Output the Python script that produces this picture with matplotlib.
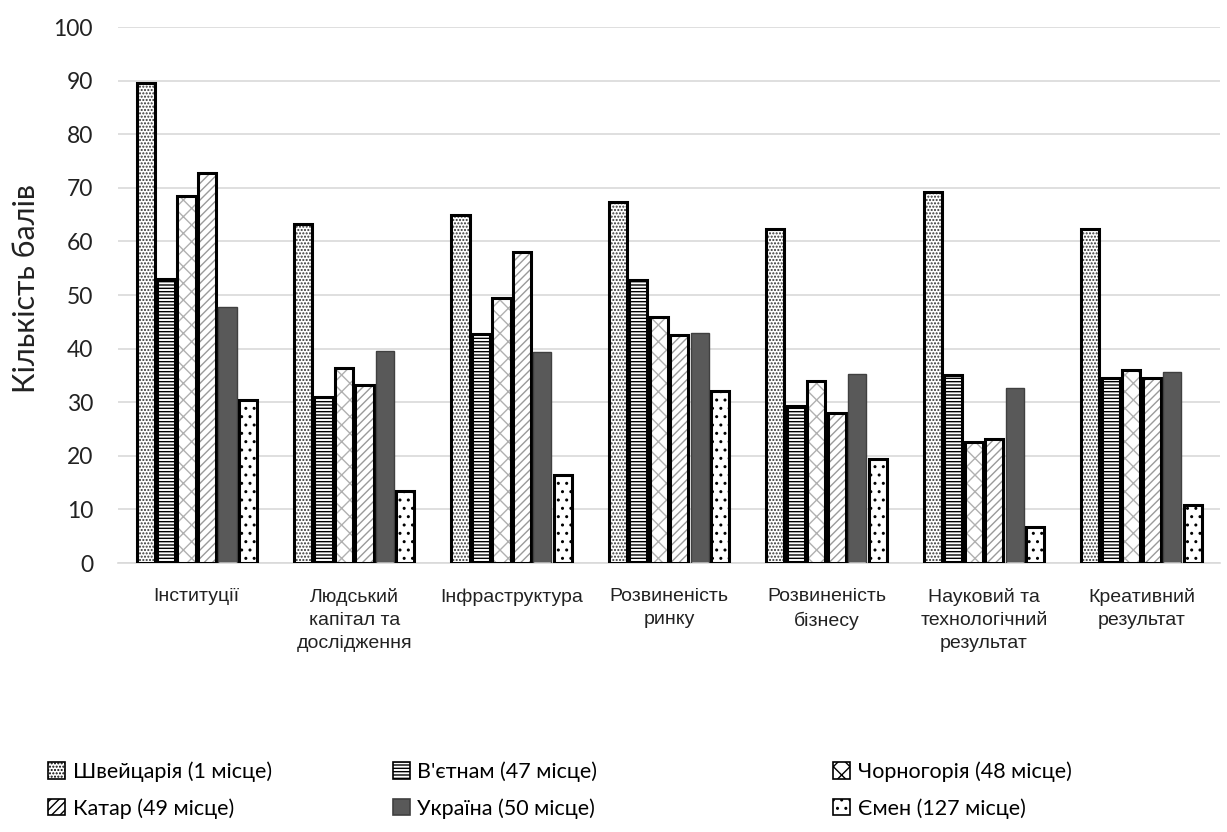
import matplotlib
matplotlib.use("Agg")
import matplotlib.pyplot as plt
from matplotlib.patches import Rectangle
import numpy as np

# pillars of the index and the six countries compared
categories = ["Інституції", "Людський\nкапітал та\nдослідження", "Інфраструктура",
              "Розвиненість\nринку", "Розвиненість\nбізнесу",
              "Науковий та\nтехнологічний\nрезультат", "Креативний\nрезультат"]
countries = ["Швейцарія (1 місце)", "В'єтнам (47 місце)", "Чорногорія (48 місце)",
             "Катар (49 місце)", "Україна (50 місце)", "Ємен (127 місце)"]

switzerland = [89.5, 63.2, 65.0, 67.4, 62.4, 69.2, 62.4]
vietnam = [53.0, 31.0, 42.8, 52.8, 29.3, 35.0, 34.6]
montenegro = [68.5, 36.3, 49.5, 45.9, 34.0, 22.5, 36.0]
qatar = [72.8, 33.2, 58.0, 42.5, 28.0, 23.1, 34.5]
ukraine = [47.8, 39.5, 39.3, 43.0, 35.3, 32.7, 35.6]
yemen = [30.5, 13.5, 16.4, 32.1, 19.4, 6.7, 10.9]

series = [switzerland, vietnam, montenegro, qatar, ukraine, yemen]

# fill, hatch, hatch colour, edge width per series
styles = [
    ("white", ".....", "#333333", 2.2),
    ("white", "-----", "black", 2.2),
    ("white", "xx", "#b0b0b0", 2.2),
    ("white", "////", "#9a9a9a", 2.2),
    ("#595959", "", "#404040", 1.0),
    ("white", "..", "black", 2.2),
]

plt.rcParams["font.family"] = ["Lato", "DejaVu Sans"]

fig = plt.figure(figsize=(12.27, 8.32), dpi=100)
ax = fig.add_axes([0.0962, 0.3233, 0.8983, 0.6442])

x = np.arange(len(categories))
slot = 0.13
width = 0.115
for i, (vals, (fc, hatch, hc, lw)) in enumerate(zip(series, styles)):
    pos = x + (i - 2.5) * slot
    # hatched fill first (hatch takes its colour from the edge), outline on top
    ax.bar(pos, vals, width, color=fc, hatch=hatch, edgecolor=hc, linewidth=0, zorder=2)
    ax.bar(pos, vals, width, color="none", edgecolor="black" if lw > 1 else hc,
           linewidth=lw, zorder=3)

ax.set_xlim(-0.5, len(categories) - 0.5)
ax.set_ylim(0, 100)
ax.set_yticks(np.arange(0, 101, 10))
ax.yaxis.grid(True, color="#d9d9d9", linewidth=1.2, zorder=0)
ax.set_axisbelow(True)
for s in ("top", "right", "left"):
    ax.spines[s].set_visible(False)
ax.spines["bottom"].set_color("#d9d9d9")
ax.spines["bottom"].set_linewidth(1.2)
ax.tick_params(axis="both", length=0)
ax.tick_params(axis="y", labelsize=16.5, colors="#222222", pad=18)
ax.set_xticks(x)
ax.set_xticklabels(categories, fontsize=14, family=["Liberation Sans", "DejaVu Sans"],
                   color="#222222", linespacing=1.45)
ax.tick_params(axis="x", pad=18)
fig.text(0.021, 0.653, "Кількість балів", rotation=90, fontsize=22, color="#222222",
         ha="center", va="center")

# legend: row-major order, one legend per column
col_x = [0.039, 0.320, 0.679]
for c in range(3):
    idx = [c, c + 3]
    handles = []
    for k in idx:
        fc, hatch, hc, lw = styles[k]
        handles.append(Rectangle((0, 0), 1, 1, facecolor=fc, hatch=hatch,
                                 edgecolor="black" if lw > 1 else hc, linewidth=1.2))
    fig.legend(handles, [countries[k] for k in idx], loc="upper left",
               bbox_to_anchor=(col_x[c], 0.085), frameon=False, fontsize=15.5,
               handlelength=0.8, handleheight=0.8, handletextpad=0.35,
               labelspacing=0.75, borderaxespad=0, borderpad=0)

fig.savefig("out.png", dpi=100)
